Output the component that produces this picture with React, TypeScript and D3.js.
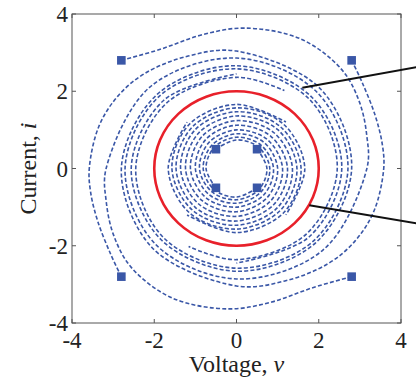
import React from "react";
import * as d3 from "d3";

// axis ticks (both axes)
const tickValues = [-4, -2, 0, 2, 4];

// radius of the limit cycle (red)
const limitRadius = 2;

// outer trajectories as [angle in degrees, radius], read clockwise from the start marker
const outerA = [
  [135, 3.96], [121, 3.6], [104, 3.56], [87, 3.64], [65, 3.7], [45, 3.62], [30, 3.45],
  [15, 3.28], [0, 3.17], [-45, 2.98], [-90, 2.86], [-135, 2.78], [-180, 2.71],
  [-225, 2.65], [-270, 2.58], [-315, 2.52], [-360, 2.45], [-405, 2.4], [-450, 2.36],
  [-480, 2.33],
];
const outerB = [
  [45, 3.96], [36, 3.78], [22, 3.64], [10, 3.6], [0, 3.58], [-18, 3.52], [-33, 3.44],
  [-48, 3.32], [-68, 3.14], [-90, 3.04], [-135, 2.9], [-180, 2.8], [-225, 2.72],
  [-270, 2.66], [-315, 2.6], [-360, 2.56], [-405, 2.5], [-450, 2.45],
];
const outerC = [
  [315, 3.96], [301, 3.6], [284, 3.56], [267, 3.64], [245, 3.7], [225, 3.62], [210, 3.45],
  [195, 3.28], [180, 3.17], [135, 2.98], [90, 2.86], [45, 2.78], [0, 2.71],
  [-45, 2.65], [-90, 2.58], [-135, 2.52], [-180, 2.45], [-225, 2.4], [-270, 2.36],
  [-300, 2.33],
];
const outerD = [
  [225, 3.96], [216, 3.78], [202, 3.64], [190, 3.6], [180, 3.58], [162, 3.52], [147, 3.44],
  [132, 3.32], [112, 3.14], [90, 3.04], [45, 2.9], [0, 2.8], [-45, 2.72],
  [-90, 2.66], [-135, 2.6], [-180, 2.56], [-225, 2.5], [-270, 2.45],
];

// inner trajectories: start angle and radius every 45 degrees clockwise
const innerStarts = [45, -45, 225, 135];
const innerRadii = [
  0.71, 0.74, 0.77, 0.81, 0.85, 0.9, 0.95, 1.0, 1.06, 1.12, 1.18,
  1.24, 1.3, 1.36, 1.42, 1.47, 1.52, 1.57, 1.62, 1.66, 1.7,
];

// start markers
const markerV = [-2.8, 2.8, 2.8, -2.8, 0.5, 0.5, -0.5, -0.5];
const markerI = [2.8, 2.8, -2.8, -2.8, 0.5, -0.5, -0.5, 0.5];

// annotation pointers [from v, from i, to v, to i]
const pointers = [
  [1.6, 2.09, 4.37, 2.62],
  [1.77, -0.95, 4.37, -1.42],
];

const blue = "#3a57a7";
const font = "'Liberation Serif', 'DejaVu Serif', serif";

const polar = (pts) =>
  pts.map(([a, r]) => [
    r * Math.cos((a * Math.PI) / 180),
    r * Math.sin((a * Math.PI) / 180),
  ]);

export default function App() {
  const width = 416;
  const height = 378;
  const left = 72;
  const right = 401;
  const top = 14;
  const bottom = 323;

  const x = d3.scaleLinear().domain([-4, 4]).range([left, right]);
  const y = d3.scaleLinear().domain([-4, 4]).range([bottom, top]);

  const line = d3
    .line()
    .x((d) => x(d[0]))
    .y((d) => y(d[1]))
    .curve(d3.curveCatmullRom.alpha(0.5));

  const inner = innerStarts.map((s) =>
    innerRadii.map((r, k) => [s - 45 * k, r])
  );
  const trajectories = [outerA, outerB, outerC, outerD, ...inner];

  const fmt = (t) => (t < 0 ? "-" + Math.abs(t) : String(t));
  const tl = 4;

  return (
    <svg
      width={width}
      height={height}
      style={{ position: "absolute", left: 0, top: 0, background: "#fff" }}
    >
      {trajectories.map((t, i) => (
        <path
          key={i}
          d={line(polar(t))}
          fill="none"
          stroke={blue}
          strokeWidth={1.6}
          strokeDasharray="4 2.2"
        />
      ))}
      <ellipse
        cx={x(0)}
        cy={y(0)}
        rx={x(limitRadius) - x(0)}
        ry={y(0) - y(limitRadius)}
        fill="none"
        stroke="#e8202a"
        strokeWidth={2.6}
      />
      {markerV.map((v, i) => (
        <rect
          key={i}
          x={x(v) - 4.3}
          y={y(markerI[i]) - 4.3}
          width={8.6}
          height={8.6}
          fill={blue}
        />
      ))}
      {/* frame */}
      <rect
        x={left}
        y={top}
        width={right - left}
        height={bottom - top}
        fill="none"
        stroke="#555"
        strokeWidth={1}
      />
      {tickValues.map((t) => (
        <g key={t} stroke="#555" strokeWidth={1}>
          <line x1={x(t)} x2={x(t)} y1={bottom} y2={bottom - tl} />
          <line x1={x(t)} x2={x(t)} y1={top} y2={top + tl} />
          <line x1={left} x2={left + tl} y1={y(t)} y2={y(t)} />
          <line x1={right} x2={right - tl} y1={y(t)} y2={y(t)} />
        </g>
      ))}
      {pointers.map((p, i) => (
        <line
          key={i}
          x1={x(p[0])}
          y1={y(p[1])}
          x2={x(p[2])}
          y2={y(p[3])}
          stroke="#111"
          strokeWidth={2}
        />
      ))}
      <g fontFamily={font} fontSize={23} fill="#222">
        {tickValues.map((t) => (
          <text key={"y" + t} x={left - 4} y={y(t)} dy="0.35em" textAnchor="end">
            {fmt(t)}
          </text>
        ))}
        {tickValues.map((t) => (
          <text key={"x" + t} x={x(t)} y={348} textAnchor="middle">
            {fmt(t)}
          </text>
        ))}
      </g>
      <g fontFamily={font} fontSize={24} fill="#222">
        <text x={x(0)} y={372} textAnchor="middle">
          Voltage, <tspan fontStyle="italic">v</tspan>
        </text>
        <text
          transform={`translate(36,${y(0)}) rotate(-90)`}
          textAnchor="middle"
        >
          Current, <tspan fontStyle="italic">i</tspan>
        </text>
      </g>
    </svg>
  );
}
